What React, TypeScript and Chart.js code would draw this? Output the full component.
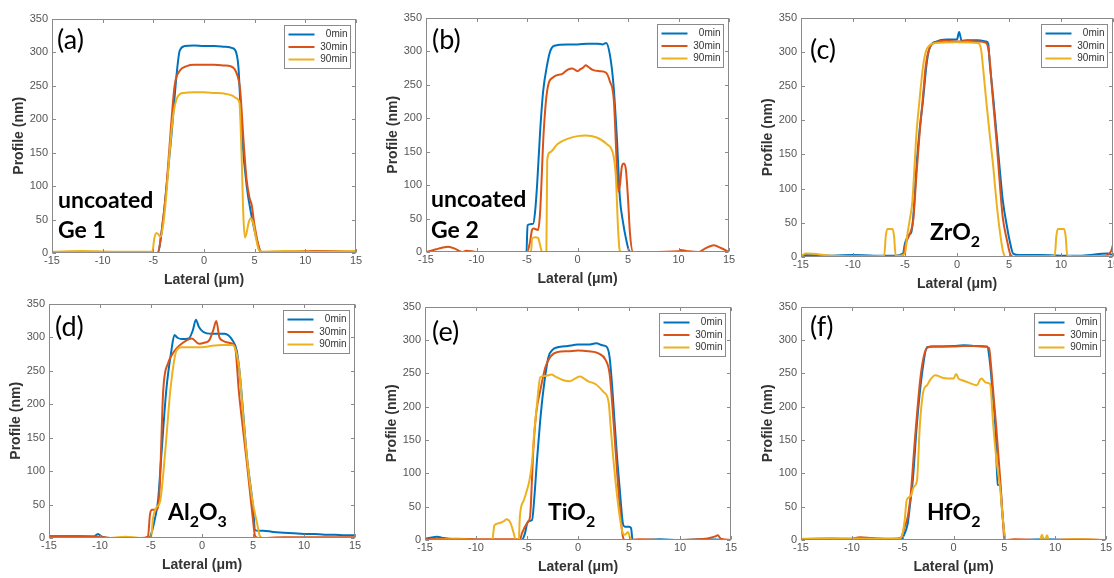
import React, { useEffect, useRef } from "react";
import { Chart, registerables } from "chart.js";

Chart.register(...registerables);

// ---------- shared labels / ticks ----------
const TIMES = ["0min", "30min", "90min"];
const COLORS = ["#0072BD", "#D95319", "#EDB120"];
const X_TICKS = [-15, -10, -5, 0, 5, 10, 15];
const Y_TICKS = [0, 50, 100, 150, 200, 250, 300, 350];
const X_TITLE = "Lateral (μm)";
const Y_TITLE = "Profile (nm)";

// ---------- (a) uncoated Ge 1 ----------
const aBlueX = [-15, -12, -9, -6, -4.6, -4.0, -3.7, -3.2, -2.7, -2.4, -1.9, -1.0, 0, 1.0, 2.0, 2.8, 3.2, 3.4, 3.73, 4.22, 4.71, 5.2, 5.6, 5.8, 8, 11, 15];
const aBlueY = [0, 0, 0, 0, 0, 54, 99, 178, 267, 302, 309, 310, 309, 309, 308, 306, 298, 277, 178, 99, 54, 20, 1, 0, 1, 1, 1];
const aRedX = [-15, -10, -6, -4.6, -4.0, -3.7, -3.3, -2.9, -2.4, -1.7, -1.0, 0, 1.0, 2.0, 2.6, 3.0, 3.3, 3.56, 3.9, 4.2, 4.5, 4.7, 5.0, 5.5, 5.8, 8, 11, 12, 15];
const aRedY = [1, 1, 1, 0, 55, 100, 180, 250, 272, 279, 281, 281, 281, 280, 279, 275, 265, 245, 168, 110, 82, 72, 40, 5, 1, 2, 3, 3, 2];
const aYelX = [-15, -12, -9, -6, -5.1, -4.9, -4.7, -4.5, -4.3, -4.0, -3.7, -3.4, -3.0, -2.7, -2.4, -2.0, -1.0, 0, 1.0, 2.0, 2.8, 3.2, 3.5, 3.7, 3.9, 4.05, 4.2, 4.4, 4.6, 4.85, 5.1, 5.4, 5.7, 8, 11, 15];
const aYelY = [2, 3, 2, 2, 2, 22, 30, 28, 24, 45, 90, 150, 210, 230, 237, 239, 240, 240, 239, 238, 235, 231, 224, 150, 50, 23, 30, 45, 52, 45, 25, 5, 2, 3, 2, 3];

// ---------- (b) uncoated Ge 2 ----------
const bBlueX = [-15, -10, -6, -5.05, -4.95, -4.4, -4.2, -4.0, -3.7, -3.4, -3.0, -2.7, -2.3, -1, 0, 1, 2, 2.5, 2.84, 3.2, 3.56, 3.9, 4.2, 4.5, 4.8, 5.1, 5.3, 8, 12, 15];
const bBlueY = [0, 0, 0, 0, 40, 42, 60, 100, 180, 240, 280, 300, 308, 310, 310, 311, 311, 310, 312, 295, 250, 170, 80, 45, 20, 2, 0, 0, 0, 0];
const bRedX = [-15, -14, -13.5, -12.8, -12, -11.4, -11, -10, -7, -5, -4.7, -4.5, -4.35, -3.9, -3.7, -3.36, -3.0, -2.4, -1.5, -1.0, -0.5, 0, 0.3, 0.6, 0.8, 1.1, 1.5, 2.2, 2.8, 3.2, 3.6, 3.9, 4.05, 4.2, 4.4, 4.6, 4.8, 5.0, 5.2, 5.5, 7, 10, 10.2, 11, 12, 12.5, 13.5, 14.2, 15];
const bRedY = [0, 4, 6, 8, 4, 0, 2, 0, 0, 0, 15, 33, 35, 33, 60, 176, 241, 261, 266, 272, 274, 270, 273, 276, 279, 276, 272, 270, 268, 255, 226, 127, 90, 100, 128, 132, 122, 80, 27, 0, 0, 1, 3, 1, 0, 4, 10, 6, 0];
const bYelX = [-15, -10, -5, -4.6, -4.5, -4.2, -3.9, -3.7, -3.5, -3.2, -3.08, -3.0, -2.7, -2.0, -1.0, 0, 0.8, 1.9, 2.9, 3.56, 3.8, 4.0, 4.15, 4.3, 6, 10, 15];
const bYelY = [0, 0, 0, 0, 20, 22, 21, 10, 0, 0, 0, 137, 149, 161, 169, 173, 174, 171, 161, 144, 112, 40, 5, 0, 0, 0, 0];

// ---------- (c) ZrO2 ----------
const cBlueX = [-15, -14.5, -12, -10, -8, -6, -5.2, -5.0, -4.8, -4.6, -4.4, -4.2, -3.9, -3.6, -3.27, -2.9, -2.6, -2.0, -1.0, 0, 0.2, 0.45, 1.0, 2.0, 2.8, 3.0, 3.14, 3.5, 3.8, 4.1, 4.4, 4.8, 5.06, 5.4, 6, 8, 10, 12, 14.5, 15];
const cBlueY = [2, 3, 2, 3, 2, 2, 5, 20, 28, 33, 36, 60, 132, 185, 229, 285, 307, 315, 318, 318, 329, 316, 317, 317, 315, 312, 285, 230, 180, 130, 83, 45, 24, 5, 3, 3, 2, 2, 5, 3];
const cRedX = [-15, -12, -9, -6, -5.2, -5.0, -4.8, -4.5, -4.2, -3.9, -3.6, -3.3, -3.0, -2.6, -2.0, -1, 0, 1, 2, 2.8, 3.1, 3.4, 3.8, 4.1, 4.4, 4.8, 5.1, 5.4, 8, 11, 14, 14.8, 15];
const cRedY = [0, 1, 0, 1, 2, 15, 25, 35, 55, 120, 180, 229, 280, 307, 314, 316, 315, 316, 315, 313, 295, 240, 170, 110, 58, 25, 5, 0, 1, 0, 1, 8, 18];
const cYelX = [-15, -14.5, -12, -9, -7.0, -6.85, -6.7, -6.2, -6.05, -5.9, -5.5, -5.0, -4.8, -4.55, -4.3, -3.9, -3.6, -3.27, -3.0, -2.6, -2.0, 0, 2.0, 2.3, 2.5, 2.8, 3.14, 3.5, 3.78, 4.1, 4.4, 4.7, 6, 8, 9.4, 9.55, 9.7, 10.3, 10.45, 10.6, 12, 15];
const cYelY = [2, 5, 2, 1, 2, 30, 41, 41, 30, 2, 2, 5, 30, 54, 80, 180, 230, 278, 300, 310, 313, 314, 313, 305, 278, 230, 180, 130, 83, 40, 10, 0, 1, 1, 2, 30, 41, 41, 30, 2, 1, 1];

// ---------- (d) Al2O3 ----------
const dBlueX = [-15, -12, -10.6, -10.2, -9.8, -9, -7, -5.2, -4.9, -4.6, -4.3, -4.0, -3.5, -3.0, -2.7, -2.4, -2.0, -1.3, -0.9, -0.6, -0.3, 0.1, 1.0, 2.2, 3.0, 3.4, 3.7, 4.4, 5.0, 5.2, 5.5, 6.0, 7, 8, 9, 10, 11, 12, 13, 14, 15];
const dBlueY = [2, 2, 2, 6, 2, 0, 0, 0, 10, 30, 57, 120, 221, 280, 303, 299, 297, 298, 310, 326, 315, 308, 305, 305, 295, 280, 246, 122, 47, 12, 11, 11, 9, 8, 7, 6, 6, 5, 5, 4, 4];
const dRedX = [-15, -12, -10, -9, -6, -5.3, -5.1, -4.9, -4.5, -4.2, -3.8, -3.3, -3.0, -2.5, -2.0, -1.0, -0.3, 0.3, 0.7, 1.1, 1.4, 1.7, 2.0, 2.5, 3.0, 3.3, 3.6, 4.0, 4.4, 5.0, 5.2, 5.5, 8, 11, 15];
const dRedY = [3, 3, 2, 0, 0, 2, 35, 42, 42, 60, 221, 262, 272, 283, 290, 298, 290, 292, 295, 310, 324, 300, 295, 292, 290, 280, 221, 165, 112, 27, 3, 0, 1, 1, 1];
const dYelX = [-15, -12, -9, -7.5, -6, -5.0, -4.8, -4.5, -4.1, -3.6, -3.1, -2.5, -2.0, -1, 0, 1, 2, 3.0, 3.4, 3.7, 4.0, 4.4, 4.9, 5.4, 5.7, 6.0, 8, 15];
const dYelY = [0, 0, 0, 2, 0, 0, 30, 45, 55, 130, 221, 280, 285, 285, 285, 287, 288, 288, 275, 246, 190, 122, 60, 22, 2, 0, 0, 0];

// ---------- (e) TiO2 ----------
const eBlueX = [-15, -14.2, -13.8, -13.2, -12, -10, -8, -5.5, -5.2, -4.9, -4.5, -4.3, -4.0, -3.7, -3.4, -2.9, -2.5, -2.0, -1.0, 0, 1.0, 1.8, 2.4, 2.8, 3.1, 3.35, 3.6, 3.85, 4.1, 4.4, 4.6, 5.0, 5.2, 5.35, 6, 8, 10, 12, 15];
const eBlueY = [2, 4, 5, 3, 1, 0, 0, 0, 10, 28, 30, 60, 124, 180, 224, 274, 285, 289, 291, 293, 293, 295, 292, 290, 274, 230, 174, 120, 75, 25, 20, 20, 18, 0, 0, 1, 0, 1, 0];
const eRedX = [-15, -12, -9, -6, -5.7, -5.5, -5.0, -4.7, -4.6, -4.4, -4.1, -3.7, -3.2, -2.7, -2.0, -1, 0, 1, 2, 2.7, 3.1, 3.5, 3.96, 4.4, 4.6, 6, 9, 12, 13.4, 13.7, 14.0, 15];
const eRedY = [1, 2, 1, 1, 0, 10, 25, 35, 60, 130, 190, 224, 259, 275, 282, 283, 284, 283, 280, 270, 249, 174, 75, 5, 0, 1, 0, 1, 5, 7, 2, 0];
const eYelX = [-15, -12, -9, -8.4, -8.2, -7.8, -7.3, -7.0, -6.6, -6.3, -6.1, -5.8, -5.7, -5.3, -5.0, -4.75, -4.5, -4.3, -4.05, -3.7, -3.2, -2.6, -2.2, -1.5, -0.8, -0.3, 0.2, 0.6, 1.0, 1.7, 2.5, 3.0, 3.2, 3.45, 3.7, 3.96, 4.4, 4.6, 4.9, 5.2, 6, 10, 15];
const eYelY = [0, 1, 0, 0, 22, 25, 28, 31, 25, 10, 0, 0, 35, 60, 75, 90, 118, 160, 199, 244, 246, 248, 245, 240, 238, 242, 245, 242, 238, 234, 222, 207, 170, 124, 85, 50, 10, 8, 12, 0, 0, 0, 0];

// ---------- (f) HfO2 ----------
const fBlueX = [-15, -12, -9, -6, -5.1, -4.8, -4.5, -4.3, -4.0, -3.6, -3.1, -2.6, -2.0, 0, 1, 2, 3.3, 3.6, 3.85, 4.1, 4.35, 4.6, 4.75, 4.9, 5.1, 6, 9, 12, 15];
const fBlueY = [1, 1, 1, 0, 2, 10, 25, 50, 90, 174, 249, 289, 290, 291, 292, 291, 290, 264, 220, 174, 83, 82, 50, 25, 0, 0, 1, 0, 0];
const fRedX = [-15, -12, -10, -9.2, -8, -6, -5.2, -4.8, -4.5, -4.2, -3.8, -3.2, -2.6, -2, 0, 1, 2, 3, 3.5, 3.7, 4.2, 4.6, 4.9, 5.0, 6, 9, 12, 15];
const fRedY = [0, 1, 2, 4, 3, 2, 3, 20, 35, 70, 150, 250, 288, 290, 290, 291, 291, 290, 288, 260, 170, 90, 20, 0, 1, 0, 1, 0];
const fYelX = [-15, -12, -9, -6, -5.3, -5.0, -4.8, -4.6, -4.2, -3.9, -3.6, -3.3, -2.95, -2.6, -2.3, -1.8, -1.0, 0, 0.26, 0.5, 0.8, 1.5, 2.3, 2.6, 2.75, 3.2, 3.6, 3.9, 4.2, 4.6, 4.9, 5.1, 6, 8.5, 8.7, 8.9, 9.0, 9.2, 9.4, 12, 15];
const fYelY = [2, 3, 2, 2, 2, 10, 30, 60, 66, 80, 88, 174, 224, 232, 240, 247, 243, 242, 249, 242, 240, 236, 232, 240, 242, 236, 234, 174, 124, 75, 25, 0, 0, 0, 8, 0, 0, 7, 0, 1, 0];

// ---------- panel texts ----------
type Seg = { t: string; sub?: boolean };
const PANEL_TAGS = ["(a)", "(b)", "(c)", "(d)", "(e)", "(f)"];
const PANEL_NOTES: Seg[][][] = [
  [[{ t: "uncoated" }], [{ t: "Ge 1" }]],
  [[{ t: "uncoated" }], [{ t: "Ge 2" }]],
  [[{ t: "ZrO" }, { t: "2", sub: true }]],
  [[{ t: "Al" }, { t: "2", sub: true }, { t: "O" }, { t: "3", sub: true }]],
  [[{ t: "TiO" }, { t: "2", sub: true }]],
  [[{ t: "HfO" }, { t: "2", sub: true }]],
];
const PANEL_SERIES = [
  [[aBlueX, aBlueY], [aRedX, aRedY], [aYelX, aYelY]],
  [[bBlueX, bBlueY], [bRedX, bRedY], [bYelX, bYelY]],
  [[cBlueX, cBlueY], [cRedX, cRedY], [cYelX, cYelY]],
  [[dBlueX, dBlueY], [dRedX, dRedY], [dYelX, dYelY]],
  [[eBlueX, eBlueY], [eRedX, eRedY], [eYelX, eYelY]],
  [[fBlueX, fBlueY], [fRedX, fRedY], [fYelX, fYelY]],
];

// ---------- layout (page pixels of each plot box, and text offsets) ----------
const LAYOUT = [
  { l: 52, t: 18, r: 356, b: 253, tag: [5, 30], note: [6, [-45, -15]] },
  { l: 426, t: 17, r: 729, b: 252, tag: [6, 31], note: [5, [-45, -14]] },
  { l: 801, t: 17, r: 1113, b: 257, tag: [9, 41], note: [129, [-17]] },
  { l: 49, t: 303, r: 355, b: 538, tag: [6, 32], note: [119, [-18]] },
  { l: 425, t: 306, r: 731, b: 540, tag: [7, 34], note: [123, [-20]] },
  { l: 801, t: 306, r: 1106, b: 540, tag: [9, 29], note: [126, [-20]] },
];
const YW = 44;
const XH = 40;
const PAD_T = 10;
const PAD_R = 16;
const AXIS_FONT = "'Liberation Sans', Arial, sans-serif";
const NOTE_FONT = "Lato, 'Open Sans', sans-serif";

const boxPlugin = {
  id: "matlabBox",
  afterDatasetsDraw(chart: any) {
    const { ctx, chartArea: a, scales } = chart;
    ctx.save();
    ctx.strokeStyle = "#8a8a8a";
    ctx.lineWidth = 1;
    const L = Math.round(a.left) + 0.5, T = Math.round(a.top) + 0.5;
    const R = Math.round(a.right) - 0.5, B = Math.round(a.bottom) - 0.5;
    ctx.strokeRect(L, T, R - L, B - T);
    const tl = 3.5;
    ctx.beginPath();
    scales.x.ticks.forEach((t: any) => {
      const px = Math.round(scales.x.getPixelForValue(t.value)) + 0.5;
      ctx.moveTo(px, B); ctx.lineTo(px, B - tl);
      ctx.moveTo(px, T); ctx.lineTo(px, T + tl);
    });
    scales.y.ticks.forEach((t: any) => {
      const py = Math.round(scales.y.getPixelForValue(t.value)) + 0.5;
      ctx.moveTo(L, py); ctx.lineTo(L + tl, py);
      ctx.moveTo(R, py); ctx.lineTo(R - tl, py);
    });
    ctx.stroke();
    ctx.restore();
  },
};

function makeOverlay(idx: number) {
  const lay = LAYOUT[idx];
  return {
    id: "overlay" + idx,
    afterDraw(chart: any) {
      const { ctx, chartArea: a } = chart;
      ctx.save();
      // panel tag
      ctx.fillStyle = "#000";
      ctx.textBaseline = "alphabetic";
      ctx.textAlign = "left";
      ctx.font = `27px ${NOTE_FONT}`;
      ctx.fillText(PANEL_TAGS[idx], a.left + lay.tag[0], a.top + lay.tag[1]);
      // material note
      const lines = PANEL_NOTES[idx];
      const offs = lay.note[1] as number[];
      lines.forEach((segs, li) => {
        let x = a.left + (lay.note[0] as number);
        const base = a.bottom + offs[li];
        segs.forEach((s) => {
          if (s.sub) {
            ctx.font = `bold 16px ${NOTE_FONT}`;
            ctx.fillText(s.t, x, base + 7);
          } else {
            ctx.font = `bold 23px ${NOTE_FONT}`;
            ctx.fillText(s.t, x, base);
          }
          x += ctx.measureText(s.t).width;
        });
      });
      // legend
      const w = 66, h = 43;
      const bx = Math.round(a.right - 6 - w) + 0.5;
      const by = Math.round(a.top + 6) + 0.5;
      ctx.fillStyle = "#fff";
      ctx.fillRect(bx, by, w, h);
      ctx.strokeStyle = "#8a8a8a";
      ctx.lineWidth = 1;
      ctx.strokeRect(bx, by, w, h);
      ctx.font = `10px ${AXIS_FONT}`;
      ctx.textBaseline = "middle";
      ctx.textAlign = "right";
      TIMES.forEach((name, i) => {
        const y = by + 9 + i * 12.5;
        ctx.strokeStyle = COLORS[i];
        ctx.lineWidth = 2;
        ctx.beginPath();
        ctx.moveTo(bx + 4, y);
        ctx.lineTo(bx + 30, y);
        ctx.stroke();
        ctx.fillStyle = "#333";
        ctx.fillText(name, bx + w - 3, y);
      });
      ctx.restore();
    },
  };
}

function Panel({ idx }: { idx: number }) {
  const ref = useRef<HTMLCanvasElement>(null);
  const lay = LAYOUT[idx];
  const W = YW + (lay.r - lay.l) + PAD_R;
  const H = PAD_T + (lay.b - lay.t) + XH;

  useEffect(() => {
    if (!ref.current) return;
    const tickFont = { family: AXIS_FONT, size: 11 };
    const titleFont = { family: AXIS_FONT, size: 14, weight: "bold" as const };
    const chart = new Chart(ref.current, {
      type: "line",
      data: {
        datasets: PANEL_SERIES[idx].map(([xs, ys], i) => ({
          label: TIMES[i],
          data: xs.map((x, j) => ({ x, y: ys[j] })),
          borderColor: COLORS[i],
          backgroundColor: COLORS[i],
          borderWidth: 2,
          pointRadius: 0,
          fill: false,
          cubicInterpolationMode: "monotone" as const,
          order: 2 - i,
        })),
      },
      options: {
        responsive: false,
        animation: false,
        devicePixelRatio: 1,
        events: [],
        layout: { padding: { left: 0, top: PAD_T, right: PAD_R, bottom: 0 } },
        plugins: { legend: { display: false }, tooltip: { enabled: false } },
        scales: {
          x: {
            type: "linear",
            min: X_TICKS[0],
            max: X_TICKS[X_TICKS.length - 1],
            afterBuildTicks: (s: any) => { s.ticks = X_TICKS.map((v) => ({ value: v })); },
            afterFit: (s: any) => { s.height = XH; },
            grid: { display: false, drawTicks: false },
            border: { display: false },
            ticks: { padding: 1, color: "#555", font: tickFont, maxRotation: 0, autoSkip: false },
            title: { display: true, text: X_TITLE, color: "#333", font: titleFont, padding: { top: 0, bottom: 4 } },
          },
          y: {
            type: "linear",
            min: Y_TICKS[0],
            max: Y_TICKS[Y_TICKS.length - 1],
            afterBuildTicks: (s: any) => { s.ticks = Y_TICKS.map((v) => ({ value: v })); },
            afterFit: (s: any) => { s.width = YW; },
            grid: { display: false, drawTicks: false },
            border: { display: false },
            ticks: { padding: 4, color: "#555", font: tickFont, autoSkip: false },
            title: { display: true, text: Y_TITLE, color: "#333", font: titleFont, padding: { top: 3, bottom: 0 } },
          },
        },
      },
      plugins: [boxPlugin, makeOverlay(idx)],
    } as any);
    return () => chart.destroy();
  }, [idx]);

  return (
    <canvas
      ref={ref}
      width={W}
      height={H}
      style={{ position: "absolute", left: lay.l - YW, top: lay.t - PAD_T, width: W, height: H }}
    />
  );
}

export default function App() {
  return (
    <div
      style={{
        position: "fixed",
        left: 0,
        top: 0,
        width: 1114,
        height: 578,
        overflow: "hidden",
        background: "#fff",
      }}
    >
      {LAYOUT.map((_, i) => (
        <Panel key={i} idx={i} />
      ))}
    </div>
  );
}
